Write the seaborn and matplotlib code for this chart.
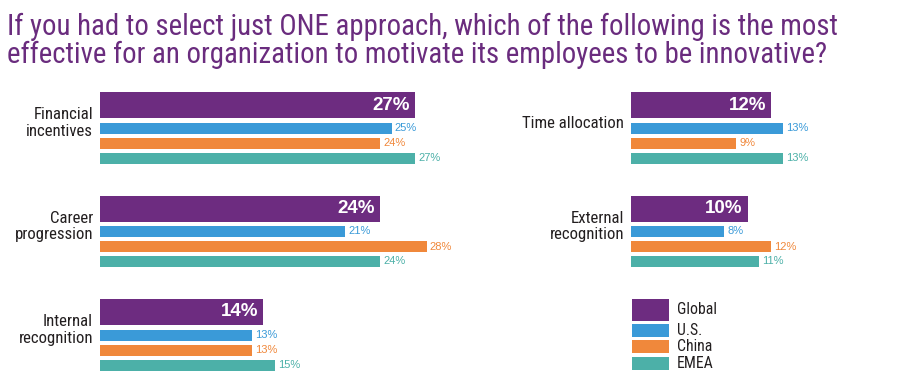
import matplotlib
matplotlib.use("Agg")
import matplotlib.pyplot as plt
from matplotlib import font_manager
from matplotlib.patches import Rectangle
import pandas as pd
import seaborn as sns

# ---------------- data ----------------
series = ["Global", "U.S.", "China", "EMEA"]

left_categories = ["Financial\nincentives", "Career\nprogression", "Internal\nrecognition"]
left_global = [27, 24, 14]
left_us = [25, 21, 13]
left_china = [24, 28, 13]
left_emea = [27, 24, 15]

right_categories = ["Time allocation", "External\nrecognition"]
right_global = [12, 10]
right_us = [13, 8]
right_china = [9, 12]
right_emea = [13, 11]

title_lines = [
    "If you had to select just ONE approach, which of the following is the most",
    "effective for an organization to motivate its employees to be innovative?",
]

# ---------------- style ----------------
colors = {"Global": "#6D2C80", "U.S.": "#3A9AD8", "China": "#F0883B", "EMEA": "#4CB0A8"}
TITLE_COLOR = "#6A2C7E"
TEXT = "#231F20"

sns.set_theme(style="white")
names = {f.name for f in font_manager.fontManager.ttflist}
narrow = None
for cand in ["Roboto Condensed", "Liberation Sans Narrow", "Archivo Narrow", "Open Sans Condensed"]:
    if cand in names:
        narrow = cand
        break
plt.rcParams["font.family"] = ["Liberation Sans", "DejaVu Sans"]
NARROW = [narrow, "Liberation Sans"] if narrow else ["Liberation Sans"]
K = 1.0 if narrow else 0.82

W, H = 900, 380
fig = plt.figure(figsize=(9, 3.8), dpi=100)
PX = 11.667           # pixels per percentage point
TOP0, PITCH = 92, 103.5
OFF = {"Global": 13, "U.S.": 36, "China": 51, "EMEA": 66}


def panel(left_px, width_pct, cats, g, us, cn, em):
    ax = fig.add_axes([left_px / W, 0, width_pct * PX / W, 1])
    tops = [TOP0 + i * PITCH for i in range(len(cats))]
    gdf = pd.DataFrame({"value": g, "pos": [t + OFF["Global"] for t in tops]})
    rows = []
    for s, vals in [("U.S.", us), ("China", cn), ("EMEA", em)]:
        for t, v in zip(tops, vals):
            rows.append({"series": s, "value": v, "pos": t + OFF[s]})
    rdf = pd.DataFrame(rows)
    sns.barplot(data=gdf, x="value", y="pos", orient="h", native_scale=True,
                color=colors["Global"], saturation=1, width=26 / PITCH,
                errorbar=None, linewidth=0, ax=ax)
    sns.barplot(data=rdf, x="value", y="pos", hue="series",
                hue_order=["U.S.", "China", "EMEA"], palette=colors,
                orient="h", native_scale=True, saturation=1, width=11 / 15,
                errorbar=None, linewidth=0, dodge=False, legend=False, ax=ax)
    ax.set_xlim(0, width_pct)
    ax.set_ylim(H, 0)
    ax.axis("off")

    for bar, v in zip(ax.containers[0], g):
        ax.annotate(f"{v}%", xy=(bar.get_width(), bar.get_y() + bar.get_height() / 2),
                    xytext=(-5, 0), textcoords="offset pixels", ha="right", va="center",
                    color="white", fontweight="bold", fontsize=13.5)
    for cont, s, vals in zip(ax.containers[1:], ["U.S.", "China", "EMEA"], [us, cn, em]):
        for bar, v in zip(cont, vals):
            ax.annotate(f"{v}%", xy=(bar.get_width(), bar.get_y() + bar.get_height() / 2),
                        xytext=(3, 0), textcoords="offset pixels", ha="left", va="center",
                        color=colors[s], fontsize=8)
    for t, c in zip(tops, cats):
        ax.annotate(c, xy=(0, t + 31), xytext=(-7, 0), textcoords="offset pixels",
                    ha="right", va="center", color=TEXT, fontsize=12.1 * K,
                    family=NARROW, linespacing=1.1)
    return ax


panel(100, 30, left_categories, left_global, left_us, left_china, left_emea)
panel(631, 22, right_categories, right_global, right_us, right_china, right_emea)

# title
for i, line in enumerate(title_lines):
    fig.text(7 / W, 1 - (35 + 28 * i) / H, line, ha="left", va="baseline",
             color=TITLE_COLOR, fontsize=20.7 * K, family=NARROW)

# legend
leg = [("Global", 299, 22), ("U.S.", 324, 13), ("China", 340, 13), ("EMEA", 357, 13)]
for name, y, h in leg:
    fig.patches.append(Rectangle((632 / W, 1 - (y + h) / H), 37 / W, h / H,
                                 transform=fig.transFigure, color=colors[name], lw=0))
    fig.text(677 / W, 1 - (y + h / 2) / H, name, ha="left", va="center",
             color=TEXT, fontsize=11.3 * K, family=NARROW)

fig.savefig("out.png", dpi=100)
